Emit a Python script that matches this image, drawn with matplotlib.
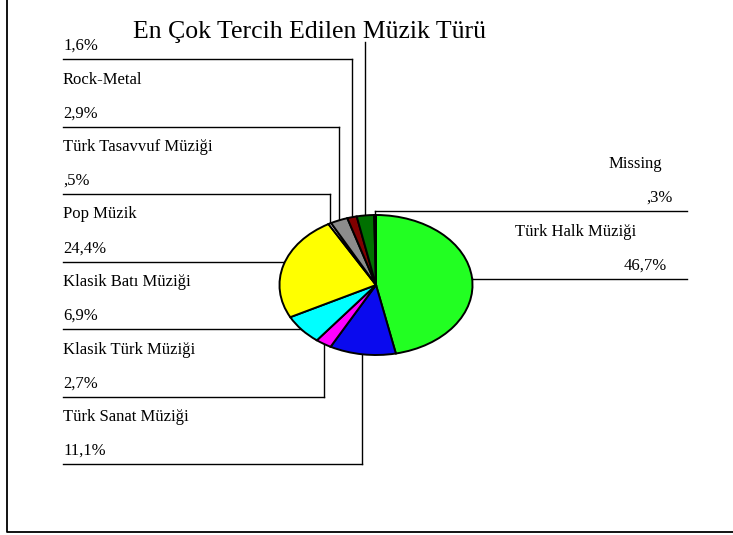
import numpy as np
import matplotlib
matplotlib.use("Agg")
import matplotlib.pyplot as plt

# slice data, clockwise from 12 o'clock
categories = ["Türk Halk Müziği", "Türk Sanat Müziği", "Klasik Türk Müziği",
              "Klasik Batı Müziği", "Pop Müzik", "Türk Tasavvuf Müziği",
              "Rock-Metal", "", "", "Missing"]
percents = [46.7, 11.1, 2.7, 6.9, 24.4, 0.5, 2.9, 1.6, 2.9, 0.3]
pct_labels = ["46,7%", "11,1%", "2,7%", "6,9%", "24,4%", ",5%", "2,9%", "1,6%", "", ",3%"]
colors = ["#22ff22", "#0a0aee", "#ff00ff", "#00ffff", "#ffff00", "#ffffff",
          "#8c8c8c", "#800000", "#007000", "#000000"]
title = "En Çok Tercih Edilen Müzik Türü"

W, H = 733, 535
cx, cy, rx, ry = 376, 285, 96.5, 70   # pie ellipse in pixels
font = ["Liberation Serif", "DejaVu Serif"]

fig = plt.figure(figsize=(W / 100, H / 100), dpi=100)
ax = fig.add_axes([0, 0, 1, 1])
ax.set_xlim(0, W)
ax.set_ylim(H, 0)
ax.axis("off")

# pie in its own axes so it can be squashed into an ellipse
pax = fig.add_axes([(cx - rx) / W, 1 - (cy + ry) / H, 2 * rx / W, 2 * ry / H])
pax.set_zorder(3)
wedges, _ = pax.pie(percents, colors=colors, startangle=90, counterclock=False,
                    wedgeprops=dict(edgecolor="black", linewidth=1.4))
pax.set_aspect("auto")
pax.set_xlim(-1, 1)
pax.set_ylim(-1, 1)
for w in wedges:
    w.set_clip_on(False)

# anchor points at the mid angle of each slice
anchors = []
for w in wedges:
    mid = np.deg2rad((w.theta1 + w.theta2) / 2)
    anchors.append((cx + rx * np.cos(mid), cy - ry * np.sin(mid)))

lk = dict(color="black", linewidth=1.0)
tk = dict(family=font, fontsize=12, va="baseline")

# left side labels: slice index -> row
left_rows = {7: 0, 6: 1, 5: 2, 4: 3, 3: 4, 2: 5, 1: 6}
x_left = 63
for i, row in left_rows.items():
    ly = 59 + 67.5 * row
    axx, ayy = anchors[i]
    ax.plot([x_left, axx], [ly, ly], **lk)
    ax.plot([axx, axx], [ly, ayy], **lk)
    if categories[i]:
        ax.text(x_left, ly - 67.5 + 24.5, categories[i], **tk)
    ax.text(x_left, ly - 9, pct_labels[i], **tk)

# right side labels
x_right = 687
right_rows = {9: (211, 662, 673), 0: (279, 636, 667)}
for i, (ly, xn, xp) in right_rows.items():
    axx, ayy = anchors[i]
    ax.plot([axx, x_right], [ly, ly], **lk)
    ax.plot([axx, axx], [ly, ayy], **lk)
    ax.text(xn, ly - 68 + 25, categories[i], ha="right", **tk)
    ax.text(xp, ly - 9, pct_labels[i], ha="right", **tk)

# slice without visible label
axx, ayy = anchors[8]
ax.plot([axx, axx], [42, ayy], **lk)

ax.text(133, 38, title, family=font, fontsize=18.5, va="baseline")

# frame
ax.plot([7, 7, W], [0, 532, 532], color="black", linewidth=1.3)

fig.savefig("out.png", dpi=100)
